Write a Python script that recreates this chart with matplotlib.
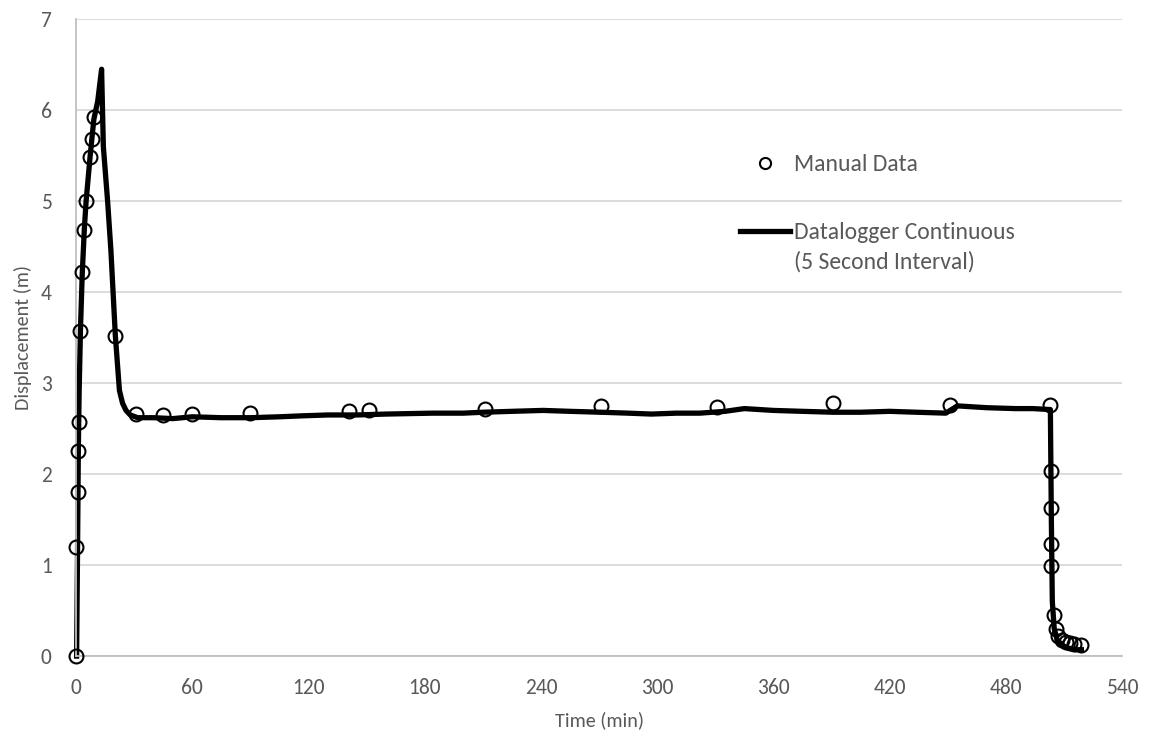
import numpy as np
import matplotlib
matplotlib.use('Agg')
from matplotlib import pyplot as plt

# manual readings (min, m)
manual_t = [0, 0, 0.8, 0.8, 1.3, 2, 3, 4.3, 5.2, 7.3, 8, 9.5, 20.3,
	31, 45, 60, 90, 141, 151, 211, 271, 331, 391, 451, 503,
	503.5, 503.5, 503.5, 503.5, 505, 506, 507, 509, 511, 513, 515, 519]
manual_disp = [0.0, 1.20, 1.80, 2.25, 2.57, 3.57, 4.22, 4.68, 5.00, 5.48, 5.68, 5.93, 3.52,
	2.66, 2.65, 2.66, 2.67, 2.69, 2.71, 2.72, 2.75, 2.74, 2.78, 2.76, 2.76,
	2.03, 1.63, 1.23, 0.99, 0.45, 0.30, 0.22, 0.18, 0.16, 0.14, 0.13, 0.12]

# datalogger trace
logger_t = [0.3, 0.8, 1.2, 1.6, 2.3, 3.2, 4.3, 5.2, 7.3, 9.2, 11.2, 13.2,
	14.1, 16.3, 18, 20.3, 22.4, 24, 25.8, 28, 31.8,
	40, 50, 60, 75, 90, 105, 116, 130, 145, 160, 184, 200, 210, 225, 241, 255, 271,
	285, 297, 310, 322, 335, 345, 360, 375, 391, 405, 420, 434, 449, 455, 470, 485, 494, 502.5,
	503, 503.5, 504, 505, 506.5, 509, 512, 516, 519]
logger_disp = [0.0, 1.2, 2.3, 2.9, 3.6, 4.2, 4.7, 5.0, 5.5, 5.9, 6.1, 6.45,
	5.6, 5.0, 4.46, 3.52, 2.92, 2.78, 2.70, 2.65, 2.62,
	2.62, 2.61, 2.63, 2.62, 2.62, 2.63, 2.64, 2.65, 2.65, 2.66, 2.67, 2.67, 2.68, 2.69, 2.70, 2.69, 2.68,
	2.67, 2.66, 2.67, 2.67, 2.69, 2.72, 2.70, 2.69, 2.68, 2.68, 2.69, 2.68, 2.67, 2.75, 2.73, 2.72, 2.72, 2.71,
	2.71, 1.5, 0.6, 0.3, 0.18, 0.12, 0.09, 0.07, 0.07]

x_ticks = list(range(0, 541, 60))
y_ticks = list(range(0, 8))

def main():
	plt.rcParams['font.family'] = ['Carlito', 'Lato', 'DejaVu Sans']
	grey = '#595959'

	fig = plt.figure(figsize=(11.52, 7.38), dpi=100)
	ax = fig.add_axes([0.066, 0.111, 0.908, 0.863])

	ax.plot(manual_t, manual_disp, linestyle='none', marker='o', markersize=10,
		markerfacecolor='none', markeredgecolor='black', markeredgewidth=1.5,
		label='Manual Data', zorder=3, clip_on=False)
	ax.plot(logger_t, logger_disp, color='black', lw=3.8, solid_joinstyle='round',
		label='Datalogger Continuous', zorder=2, clip_on=False)

	ax.set_xlim(0, 540)
	ax.set_ylim(0, 7)
	ax.set_xticks(x_ticks)
	ax.set_yticks(y_ticks)
	ax.tick_params(axis='both', length=0, labelsize=15.5, colors=grey)
	ax.tick_params(axis='x', pad=16)
	ax.tick_params(axis='y', pad=17.5)
	ax.grid(axis='y', color='#d9d9d9', lw=1.3)
	ax.set_axisbelow(True)
	for s in ['top', 'right']:
		ax.spines[s].set_visible(False)
	ax.spines['left'].set_color('#bfbfbf')
	ax.spines['bottom'].set_color('#bfbfbf')
	ax.spines['left'].set_linewidth(1.3)
	ax.spines['bottom'].set_linewidth(1.3)

	ax.set_xlabel('Time (min)', fontsize=14.5, color=grey, labelpad=9)
	ax.set_ylabel('Displacement (m)', fontsize=14.5, color=grey, labelpad=6)

	leg = ax.legend(loc='upper left', bbox_to_anchor=(0.614, 0.822), frameon=False,
		fontsize=17, handlelength=2.15, handletextpad=0.15, labelspacing=2.0,
		markerscale=0.8)
	for t in leg.get_texts():
		t.set_color(grey)
	# second line of the datalogger label, hung under the legend text
	ax.annotate('(5 Second Interval)', xy=(0, 0), xycoords=leg.get_texts()[1],
		xytext=(0, -6), textcoords='offset points', va='top', ha='left',
		fontsize=17, color=grey, zorder=10)

	fig.savefig('out.png', dpi=100)

main()
